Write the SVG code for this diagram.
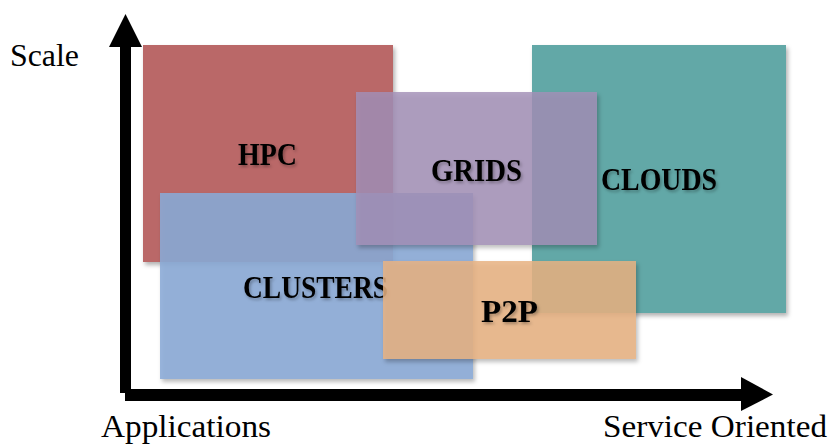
<svg xmlns="http://www.w3.org/2000/svg" width="832" height="444" viewBox="0 0 832 444">
  <defs>
    <filter id="boxShadow" x="-10%" y="-10%" width="125%" height="125%">
      <feDropShadow dx="2" dy="3" stdDeviation="2" flood-color="#000" flood-opacity="0.3"/>
    </filter>
    <filter id="textShadow" x="-10%" y="-20%" width="125%" height="150%">
      <feDropShadow dx="1.5" dy="2" stdDeviation="1.5" flood-color="#000" flood-opacity="0.3"/>
    </filter>
  </defs>
  <style>
    .box { filter: url(#boxShadow); }
    .label { font-family: "Liberation Serif", "DejaVu Serif", serif; font-weight: bold; font-size: 32px; fill: #000; filter: url(#textShadow); }
    .axis-label { font-family: "Liberation Serif", "DejaVu Serif", serif; font-size: 32px; fill: #000; }
    .axis { fill: #000; }
  </style>

  <rect width="832" height="444" fill="#fff"/>

  <!-- axes -->
  <g id="axes">
    <rect class="axis" x="120" y="44" width="11" height="349"/>
    <polygon class="axis" points="125.5,14 142,47 109,47"/>
    <rect class="axis" x="125" y="389" width="618" height="12"/>
    <polygon class="axis" points="741,377 773,394.5 741,411"/>
  </g>

  <g id="hpc">
    <rect class="box" x="143" y="45" width="250" height="217" fill="#BA6868"/>
    <text class="label" x="238" y="165" textLength="59" lengthAdjust="spacingAndGlyphs">HPC</text>
  </g>

  <g id="clusters">
    <rect class="box" x="160" y="193" width="313" height="186" fill="#8AAAD6" fill-opacity="0.88"/>
    <text class="label" x="243" y="298" textLength="145" lengthAdjust="spacingAndGlyphs">CLUSTERS</text>
  </g>

  <g id="clouds">
    <rect class="box" x="532" y="45" width="254" height="268" fill="#62A8A7"/>
    <text class="label" x="601" y="190" textLength="116" lengthAdjust="spacingAndGlyphs">CLOUDS</text>
  </g>

  <g id="grids">
    <rect class="box" x="356" y="92" width="241" height="153" fill="#A290B7" fill-opacity="0.82"/>
    <text class="label" x="431" y="181" textLength="91" lengthAdjust="spacingAndGlyphs">GRIDS</text>
  </g>

  <g id="p2p">
    <rect class="box" x="383" y="261" width="253" height="98" fill="#E8B283" fill-opacity="0.845"/>
    <text class="label" x="481" y="322" textLength="57" lengthAdjust="spacingAndGlyphs">P2P</text>
  </g>

  <!-- axis captions -->
  <g id="captions">
    <text class="axis-label" x="10" y="66" textLength="69" lengthAdjust="spacingAndGlyphs">Scale</text>
    <text class="axis-label" x="101" y="437" textLength="170" lengthAdjust="spacingAndGlyphs">Applications</text>
    <text class="axis-label" x="603" y="437" textLength="224" lengthAdjust="spacingAndGlyphs">Service Oriented</text>
  </g>
</svg>
